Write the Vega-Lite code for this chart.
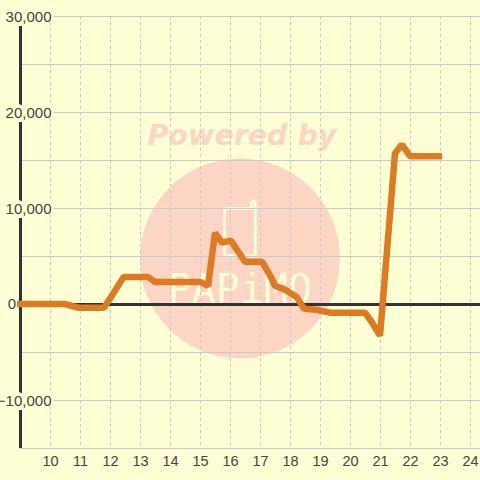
{
"$schema":"https://vega.github.io/schema/vega-lite/v6.json",
"width":460,"height":432,
"autosize":{"type":"none"},
"padding":{"left":20,"top":16,"right":0,"bottom":32},
"background":"#ffffd5",
"config":{"view":{"stroke":null},"font":"Liberation Sans","axis":{"labelOverlap":false,"labelSeparation":0},"axisQuantitative":{"labelOverlap":false,"tickCount":16}},
"datasets":{
"series":[
{"t":8.9,"v":0},{"t":10.5,"v":0},{"t":10.97,"v":-400},{"t":11.8,"v":-400},{"t":12.07,"v":900},{"t":12.45,"v":2800},{"t":13.27,"v":2800},{"t":13.5,"v":2300},{"t":15,"v":2300},{"t":15.27,"v":1900},{"t":15.5,"v":7400},{"t":15.73,"v":6400},{"t":16.03,"v":6600},{"t":16.5,"v":4400},{"t":17.07,"v":4400},{"t":17.33,"v":3000},{"t":17.5,"v":1900},{"t":17.83,"v":1500},{"t":18.23,"v":700},{"t":18.47,"v":-500},{"t":18.87,"v":-600},{"t":19.33,"v":-900},{"t":20.5,"v":-900},{"t":20.73,"v":-1900},{"t":21,"v":-3300},{"t":21.5,"v":15700},{"t":21.73,"v":16600},{"t":22,"v":15400},{"t":23.07,"v":15400}
],
"ylabels":[{"v":30000,"t":9,"l":"30,000"},{"v":20000,"t":9,"l":"20,000"},{"v":10000,"t":9,"l":"10,000"},{"v":-10000,"t":9,"l":"-10,000"}],
"zero":[{"v":0,"t":9,"t2":24.3333,"l":"0","vlo":-15000,"vhi":30000}],
"hgrid":[{"v":-15000},{"v":-10000},{"v":-5000},{"v":0},{"v":5000},{"v":10000},{"v":15000},{"v":20000},{"v":25000},{"v":30000}],
"vgrid":[{"t":10},{"t":11},{"t":12},{"t":13},{"t":14},{"t":15},{"t":16},{"t":17},{"t":18},{"t":19},{"t":20},{"t":21},{"t":22},{"t":23},{"t":24}],
"wm":[{"t":16.33,"v":4740,"l":"Powered by","t2":16.4,"v2":17550,"v3":1400,"n":"PAPiMO","v4":7917}]
},
"layer":[
{"data":{"name":"series"},
 "mark":{"type":"line","opacity":0},
 "encoding":{
  "x":{"field":"t","type":"quantitative","scale":{"domain":[9,24.3333],"nice":false,"zero":false},
   "axis":{"title":null,"values":[10,11,12,13,14,15,16,17,18,19,20,21,22,23,24],"domain":false,"ticks":false,"grid":false,"labelFontSize":14.5,"labelColor":"#444444","labelPadding":6,"labelFlush":false,"labelOverlap":false,"labelSeparation":0,"zindex":1}},
  "y":{"field":"v","type":"quantitative","scale":{"domain":[-15000,30000],"nice":false,"zero":false},
   "axis":{"title":null,"values":[-10000,10000,20000,30000],"labelExpr":"format(datum.value, ',')","domain":false,"ticks":false,"grid":false,"labelFontSize":15,"labelColor":"#444444","labelPadding":-31,"labelOverlap":false,"labelFlush":false,"zindex":1}}
 }},
{"data":{"name":"wm"},"mark":{"type":"point","filled":true,"shape":"circle","size":40000,"color":"#fcd5c5","opacity":1},
 "encoding":{"x":{"field":"t","type":"quantitative"},"y":{"field":"v","type":"quantitative"}}},
{"data":{"name":"wm"},"mark":{"type":"text","font":"DejaVu Sans","fontWeight":"bold","fontStyle":"italic","fontSize":28.5,"color":"#fcd5c5","align":"center","baseline":"middle"},
 "encoding":{"x":{"field":"t2","type":"quantitative"},"y":{"field":"v2","type":"quantitative"},"text":{"field":"l"}}},
{"data":{"name":"wm"},"mark":{"type":"text","font":"DejaVu Sans Mono","fontSize":40,"color":"#ffffd5","align":"center","baseline":"middle"},
 "encoding":{"x":{"field":"t","type":"quantitative"},"y":{"field":"v3","type":"quantitative"},"text":{"field":"n"}}},
{"data":{"name":"wm"},"mark":{"type":"point","filled":false,"opacity":1,"size":4096,"stroke":"#ffffd5","strokeWidth":3,"shape":"M-0.38 -0.61 L0.36 -0.61 L0.36 -0.8 Q0.42 -0.9 0.48 -0.8 L0.48 0.78 Q0.48 0.875 0.38 0.875 L-0.38 0.875 Q-0.48 0.875 -0.48 0.78 L-0.48 -0.51 Q-0.48 -0.61 -0.38 -0.61 Z"},
 "encoding":{"x":{"field":"t","type":"quantitative"},"y":{"field":"v4","type":"quantitative"}}},
{"data":{"name":"hgrid"},"mark":{"type":"rule","color":"#c8cacc","strokeWidth":1,"yOffset":0.5},
 "encoding":{"y":{"field":"v","type":"quantitative"}}},
{"data":{"name":"vgrid"},"mark":{"type":"rule","color":"#c8cacc","strokeWidth":1,"strokeDash":[3,3],"xOffset":0.5},
 "encoding":{"x":{"field":"t","type":"quantitative"}}},
{"data":{"name":"zero"},"mark":{"type":"rule","color":"#333333","strokeWidth":3,"xOffset":0.5},
 "encoding":{"x":{"field":"t","type":"quantitative"},"y":{"field":"vlo","type":"quantitative"},"y2":{"field":"vhi"}}},
{"data":{"name":"zero"},"mark":{"type":"rule","color":"#333333","strokeWidth":3,"yOffset":0.5},
 "encoding":{"y":{"field":"v","type":"quantitative"},"x":{"field":"t","type":"quantitative"},"x2":{"field":"t2"}}},
{"data":{"name":"ylabels"},"mark":{"type":"text","align":"right","baseline":"middle","dx":31,"fontSize":15,"color":"#ffffd5","stroke":"#ffffd5","strokeWidth":6,"font":"Liberation Sans"},
 "encoding":{"x":{"field":"t","type":"quantitative"},"y":{"field":"v","type":"quantitative"},"text":{"field":"l"}}},
{"data":{"name":"zero"},"mark":{"type":"text","align":"right","baseline":"middle","dx":-4,"fontSize":15,"color":"#444444","font":"Liberation Sans"},
 "encoding":{"x":{"field":"t","type":"quantitative"},"y":{"field":"v","type":"quantitative"},"text":{"field":"l"}}},
{"data":{"name":"series"},"mark":{"type":"line","color":"#de7a22","strokeWidth":6.5,"strokeJoin":"bevel"},
 "encoding":{"x":{"field":"t","type":"quantitative"},"y":{"field":"v","type":"quantitative"}}}
]
}
